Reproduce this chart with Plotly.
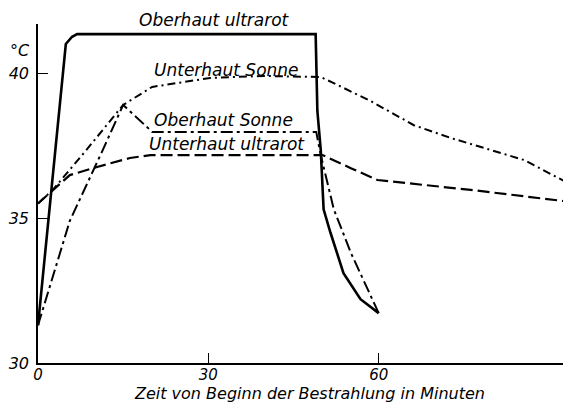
import plotly.graph_objects as go

# Time (min) and temperature (°C) per curve
ober_ultra_t = [0, 4.9, 6.0, 6.9, 48.9, 49.2, 49.8, 50.3, 51.5, 53.8, 56.8, 60.0]
ober_ultra_v = [31.3, 41.0, 41.25, 41.34, 41.34, 38.7, 37.34, 35.3, 34.5, 33.1, 32.2, 31.72]

ober_sonne_t = [0, 5.6, 11.3, 15.0, 20.1, 49.0, 49.8, 52.1, 55.1, 58.1, 60.0]
ober_sonne_v = [31.3, 34.9, 37.3, 38.9, 37.97, 37.97, 37.17, 35.3, 33.8, 32.5, 31.72]

unter_sonne_t = [0, 2.6, 8.5, 15.0, 20.1, 30.3, 39.7, 49.8, 52.0, 58.6, 66.2, 72.7, 85.6, 94.0]
unter_sonne_v = [35.5, 35.97, 37.34, 38.9, 39.52, 39.83, 39.9, 39.86, 39.66, 39.03, 38.2, 37.76, 37.0, 36.14]

unter_ultra_t = [0, 2.6, 5.6, 10.4, 16.2, 19.8, 50.1, 55.1, 59.8, 76.2, 94.0]
unter_ultra_v = [35.5, 35.97, 36.48, 36.76, 37.07, 37.17, 37.17, 36.72, 36.31, 35.97, 35.55]

x_ticks = [0, 30, 60]
y_ticks = [30, 35, 40]

curve_labels = ["Oberhaut ultrarot", "Unterhaut Sonne", "Oberhaut Sonne", "Unterhaut ultrarot"]
label_pos_t = [31.05, 33.2, 32.6, 33.3]
label_pos_v = [41.83, 40.10, 38.38, 37.55]

unit_label = "°C"
x_title = "Zeit von Beginn der Bestrahlung in Minuten"

X_MAX = 95.28
Y_MIN, Y_MAX = 30, 41.69

FONT = "DejaVu Sans, sans-serif"


def px(t):
    return t / X_MAX


def py(v):
    return (v - Y_MIN) / (Y_MAX - Y_MIN)


fig = go.Figure()
fig.add_trace(go.Scatter(x=ober_ultra_t, y=ober_ultra_v, mode="lines",
                         line=dict(color="black", width=2.6)))
fig.add_trace(go.Scatter(x=ober_sonne_t, y=ober_sonne_v, mode="lines",
                         line=dict(color="black", width=2, dash="12px,4px,3px,4px")))
fig.add_trace(go.Scatter(x=unter_sonne_t, y=unter_sonne_v, mode="lines",
                         line=dict(color="black", width=2, dash="8px,4px,2px,4px")))
fig.add_trace(go.Scatter(x=unter_ultra_t, y=unter_ultra_v, mode="lines",
                         line=dict(color="black", width=2.2, dash="12px,5px")))

for txt, t, v in zip(curve_labels, label_pos_t, label_pos_v):
    fig.add_annotation(x=px(t), y=py(v), xref="paper", yref="paper",
                       xanchor="center", yanchor="middle",
                       text=txt, showarrow=False,
                       font=dict(family=FONT, size=17, color="black", style="italic"))

fig.add_annotation(xref="paper", yref="paper", x=px(-3.12), y=py(40.79),
                   xanchor="center", yanchor="middle", text=unit_label,
                   showarrow=False, font=dict(family=FONT, size=16, color="black", style="italic"))
fig.add_annotation(xref="paper", yref="paper", x=px(47.8), y=py(28.95),
                   xanchor="center", yanchor="middle",
                   text=x_title, showarrow=False,
                   font=dict(family=FONT, size=16, color="black", style="italic"))

fig.update_layout(
    width=571, height=404,
    margin=dict(l=30, r=0, t=16, b=49),
    paper_bgcolor="white", plot_bgcolor="white",
    showlegend=False,
    font=dict(family=FONT, size=16, color="black", style="italic"),
)
fig.update_xaxes(range=[0, X_MAX], tickvals=x_ticks, ticks="inside", ticklen=10, tickwidth=1,
                 tickcolor="black", showline=True, linecolor="black", linewidth=2,
                 tickfont=dict(size=15),
                 showgrid=False, zeroline=False, automargin=False, ticklabelstandoff=-3)
fig.update_yaxes(range=[Y_MIN, Y_MAX], tickvals=y_ticks, ticks="inside", ticklen=10, tickwidth=1,
                 tickcolor="black", showline=True, linecolor="black", linewidth=1.5,
                 showgrid=False, zeroline=False, automargin=False, ticklabelstandoff=4)

fig.write_html("out.html")
